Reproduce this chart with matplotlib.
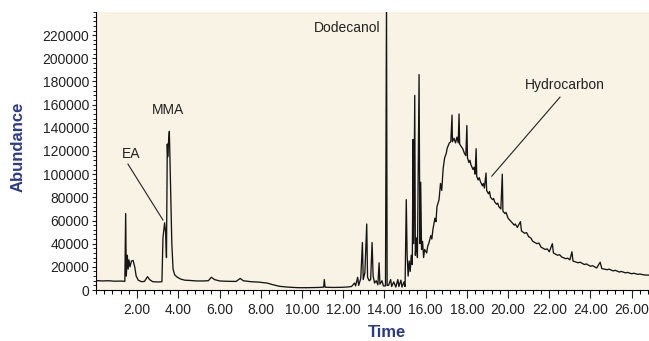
import matplotlib
matplotlib.use("Agg")
import matplotlib.pyplot as plt
from matplotlib.ticker import MultipleLocator, FixedLocator, FormatStrFormatter

plt.rcParams['font.family'] = ['Liberation Sans', 'DejaVu Sans']

# retention time (min) and abundance
time_min = [
    0.0, 0.3, 0.6, 0.9, 1.2, 1.4,
    1.44, 1.47, 1.52, 1.56, 1.6, 1.65, 1.72, 1.8, 1.88, 1.95, 2.05, 2.2, 2.35,
    2.5, 2.6, 2.75, 2.9, 3.1, 3.2, 3.25, 3.33, 3.38, 3.42, 3.46, 3.48, 3.52,
    3.56, 3.62, 3.68, 3.74, 3.82, 3.95, 4.1, 4.3, 4.6, 4.9, 5.2, 5.45, 5.6,
    5.75, 6.0, 6.4, 6.8, 7.0, 7.15, 7.5, 7.9, 8.3, 8.6, 8.9, 9.3, 9.8, 10.3,
    10.8, 11.05, 11.08, 11.12, 11.5, 11.9, 12.2, 12.4, 12.55, 12.6, 12.7,
    12.75, 12.85, 12.93, 12.97, 13.05, 13.14, 13.18, 13.26, 13.33, 13.4,
    13.45, 13.52, 13.6, 13.68, 13.74, 13.78, 13.88, 13.95, 14.05, 14.1,
    14.13, 14.2, 14.3, 14.35, 14.45, 14.55, 14.65, 14.7, 14.8, 14.85, 14.95,
    15.0, 15.06, 15.1, 15.15, 15.2, 15.25, 15.3, 15.35, 15.39, 15.42, 15.47,
    15.5, 15.55, 15.6, 15.68, 15.72, 15.76, 15.8, 15.85, 15.9, 15.95, 16.05,
    16.1, 16.15, 16.25, 16.3, 16.35, 16.45, 16.5, 16.55, 16.65, 16.72, 16.78,
    16.85, 16.92, 17.0, 17.04, 17.08, 17.15, 17.22, 17.28, 17.3, 17.38, 17.45,
    17.52, 17.58, 17.62, 17.65, 17.72, 17.8, 17.88, 17.95, 18.0, 18.03, 18.1,
    18.15, 18.2, 18.3, 18.35, 18.4, 18.45, 18.48, 18.55, 18.6, 18.65, 18.75,
    18.8, 18.85, 18.93, 18.96, 19.05, 19.1, 19.15, 19.25, 19.3, 19.35, 19.45,
    19.5, 19.55, 19.65, 19.72, 19.75, 19.85, 19.9, 20.0, 20.1, 20.15, 20.3,
    20.35, 20.45, 20.6, 20.65, 20.8, 20.9, 21.0, 21.1, 21.2, 21.4, 21.5,
    21.6, 21.8, 21.9, 22.0, 22.15, 22.2, 22.4, 22.5, 22.6, 22.8, 22.9, 23.0,
    23.1, 23.15, 23.4, 23.5, 23.7, 23.8, 24.0, 24.1, 24.3, 24.47, 24.55,
    24.8, 24.9, 25.1, 25.2, 25.4, 25.5, 25.7, 25.8, 26.0, 26.1, 26.3, 26.4,
    26.6, 26.9,
]
abundance = [
    8200, 7800, 8000, 7600, 7700, 7500,
    66000, 12000, 30000, 18000, 26000, 20000, 25000, 25500, 20000, 12000,
    8500, 7200, 7400, 11500, 9000, 7200, 7000, 7000, 7200, 45000, 58000,
    50000, 28000, 126000, 115000, 128000, 137000, 90000, 40000, 18000, 13000,
    11000, 9500, 8500, 8200, 7800, 7800, 8000, 11000, 9000, 7800, 7500, 7400,
    10000, 8000, 7200, 6800, 6000, 4500, 3200, 2500, 2000, 2000, 2200, 2500,
    9000, 2400, 2200, 2300, 2600, 3000, 6000, 3500, 11000, 4000, 10000, 41000,
    9000, 15000, 57000, 11000, 8000, 9000, 41000, 12000, 6000, 8000, 4500,
    23500, 5000, 8000, 3500, 3500, 250000, 4000, 4000, 9000, 3000, 7000,
    2500, 9000, 3000, 8500, 2500, 7000, 3000, 78000, 30000, 12000, 25000,
    16000, 30000, 22000, 130000, 40000, 168000, 30000, 45000, 28000, 186000,
    40000, 93000, 35000, 42000, 28000, 35000, 32000, 38000, 40000, 47000,
    44000, 52000, 62000, 59000, 72000, 78000, 92000, 86000, 105000, 114000,
    118000, 122000, 124000, 127000, 128000, 151000, 128000, 131000, 127000,
    132000, 127000, 152000, 126000, 124000, 122000, 118000, 116000, 142000,
    114000, 110000, 112000, 108000, 104000, 106000, 100000, 122000, 98000,
    95000, 97000, 94000, 90000, 92000, 88000, 101000, 86000, 83000, 85000,
    80000, 78000, 79000, 76000, 74000, 75000, 72000, 70000, 100000, 68000,
    66000, 67000, 62000, 60000, 59000, 56000, 57000, 54000, 59000, 51000,
    49000, 49500, 46000, 45000, 42000, 40000, 40500, 37000, 35000, 35500,
    33000, 40000, 32000, 30000, 30500, 28500, 27000, 27500, 26000, 33000,
    25000, 23500, 24000, 22000, 22500, 20500, 21000, 19000, 24000, 18500,
    17500, 18000, 16500, 17000, 15500, 16000, 14800, 15200, 14000, 14500,
    13500, 13800, 13000, 12800,
]

x_major = [2, 4, 6, 8, 10, 12, 14, 16, 18, 20, 22, 24, 26]
y_major = [0, 20000, 40000, 60000, 80000, 100000, 120000, 140000,
           160000, 180000, 200000, 220000]

label_blue = '#2b3a8c'
bg = '#f9f3e5'

fig = plt.figure(figsize=(6.49, 3.41), dpi=100)
ax = fig.add_axes([96/649, 1-290/341, 553/649, 278/341])
ax.set_facecolor(bg)

ax.plot(time_min, abundance, color='#151515', lw=0.95)

ax.set_xlim(0, 26.84)
ax.set_ylim(0, 240000)

for s in ['top', 'right']:
    ax.spines[s].set_visible(False)
ax.spines['left'].set_linewidth(0.8)
ax.spines['bottom'].set_linewidth(0.8)

ax.xaxis.set_major_locator(FixedLocator(x_major))
ax.xaxis.set_minor_locator(MultipleLocator(0.4))
ax.xaxis.set_major_formatter(FormatStrFormatter('%.2f'))
ax.yaxis.set_major_locator(FixedLocator(y_major))
ax.yaxis.set_minor_locator(MultipleLocator(4000))
ax.yaxis.set_major_formatter(FormatStrFormatter('%d'))

ax.tick_params(axis='x', which='major', length=6, width=0.8, pad=3,
               labelsize=10, colors='#222222')
ax.tick_params(axis='x', which='minor', length=3, width=0.7)
ax.tick_params(axis='y', which='major', length=3, width=0.8, pad=2,
               labelsize=10, colors='#222222')
ax.tick_params(axis='y', which='minor', length=2, width=0.6)

ax.set_ylabel('Abundance', fontsize=12, fontweight='bold', color=label_blue)
ax.yaxis.set_label_coords(-0.128, 0.514)
ax.set_xlabel('Time', fontsize=12, fontweight='bold', color=label_blue)
ax.xaxis.set_label_coords(0.526, -0.127)

# peak labels
txt = dict(fontsize=10, color='#222222')
ax.text(13.79, 226000, 'Dodecanol', ha='right', va='center', **txt)
ax.text(3.5, 155300, 'MMA', ha='center', va='center', **txt)
ax.text(1.70, 117300, 'EA', ha='center', va='center', **txt)
ax.plot([1.55, 3.25], [108700, 60400], color='#222222', lw=0.8)
ax.text(22.77, 176900, 'Hydrocarbon', ha='center', va='center', **txt)
ax.plot([22.52, 19.21], [166500, 98300], color='#222222', lw=0.8)

fig.savefig('out.png', dpi=100, facecolor='white')
